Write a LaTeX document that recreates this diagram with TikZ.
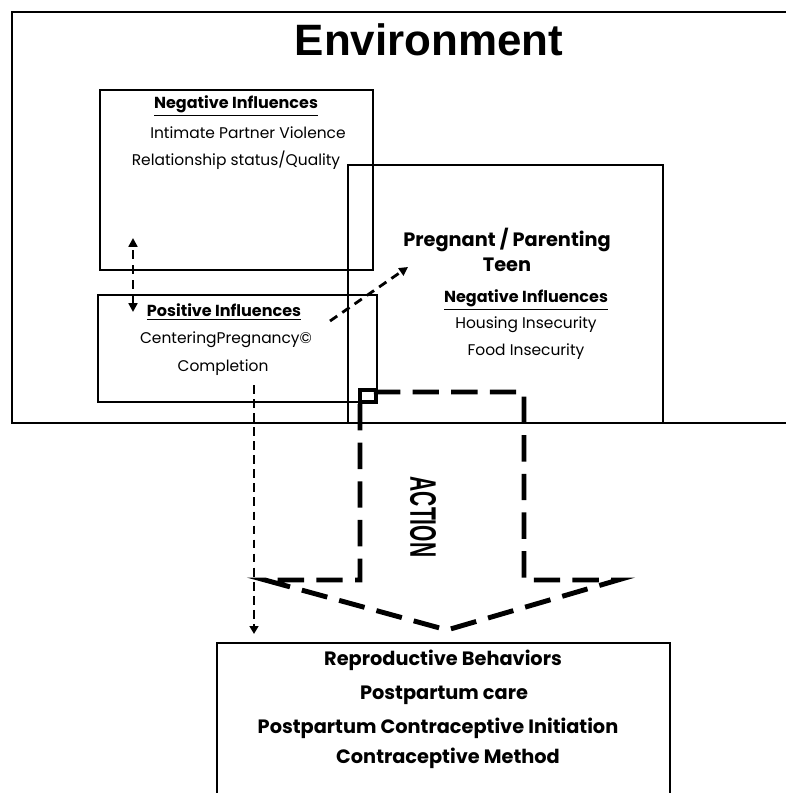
\documentclass[tikz,border=0pt]{standalone}
\usepackage{fontspec}
\setmainfont{Poppins}
\newfontfamily\headfont{Liberation Sans}
\usetikzlibrary{arrows.meta, positioning}

\begin{document}
\begin{tikzpicture}[
        x=0.02cm, y=-0.02cm,
        box/.style={rectangle, draw=black, line width=1.4pt, inner sep=0pt},
        txt/.style={font=\fontsize{8.8}{10}\selectfont, inner sep=0pt},
        hdr/.style={font=\fontsize{9.1}{10}\selectfont\bfseries, inner sep=0pt},
        big/.style={font=\fontsize{11}{13}\selectfont\bfseries, inner sep=0pt},
        arrow/.style={-{Triangle[length=5pt, width=5pt]}, line width=1.6pt, dash pattern=on 5pt off 3.5pt},
        thinarrow/.style={-{Triangle[length=4.5pt, width=5pt]}, line width=1.1pt, dash pattern=on 5pt off 3pt},
        action/.style={line width=2.8pt, dash pattern=on 15pt off 7pt}
    ]
        \useasboundingbox (0,0) rectangle (786,793);
        \clip (0,0) rectangle (786,793);

        % Environment
        \draw[line width=1.4pt] (795,12) -- (12,12) -- (12,423) -- (795,423);
        \node[font=\headfont\fontsize{25}{25}\selectfont\bfseries, inner sep=0pt] (env) at (429,40) {Environment};

        % Negative influences
        \node[box, minimum width=5.46cm, minimum height=3.6cm] (neg) at (236.5,180) {};
        \node[hdr] (negh) at (236,106) {\underline{Negative Influences}};
        \node[txt] (ipv) at (248,133) {Intimate Partner Violence};
        \node[txt] (rel) at (236,160) {Relationship status/Quality};

        % Positive influences
        \node[box, minimum width=5.58cm, minimum height=2.14cm] (pos) at (237.5,348.5) {};
        \node[hdr] (posh) at (224,312) {\underline{Positive Influences}};
        \node[txt] (cp) at (226,340) {CenteringPregnancy\textcopyright};
        \node[txt] (comp) at (223,368) {Completion};

        % Teen
        \node[box, minimum width=6.3cm, minimum height=5.16cm] (teen) at (505.5,294) {};
        \node[big, align=center] (teenh) at (507,250) {Pregnant / Parenting\\[1pt]Teen};
        \node[hdr] (teenn) at (526,300) {\underline{Negative Influences}};
        \node[txt] (hous) at (526,325) {Housing Insecurity};
        \node[txt] (food) at (526,352) {Food Insecurity};

        % Reproductive behaviors
        \draw[line width=1.4pt] (217,800) -- (217,643) -- (670,643) -- (670,800);
        \node[big] (rep) at (443,660) {Reproductive Behaviors};
        \node[big] (ppc) at (444,695) {Postpartum care};
        \node[big] (pci) at (438,728) {Postpartum Contraceptive Initiation};
        \node[big] (cm) at (448,758) {Contraceptive Method};

        % Connectors
        \coordinate (a) at (133,312);
        \coordinate (b) at (133,238);
        \draw[arrow, {Triangle[length=5pt, width=5pt]}-{Triangle[length=5pt, width=5pt]}] (a) -- (b);
        \coordinate (c) at (330,321);
        \coordinate (d) at (408,267);
        \draw[arrow] (c) -- (d);
        \coordinate (e) at (254,385);
        \coordinate (f) at (254,634);
        \draw[thinarrow] (e) -- (f);

        % Action arrow
        \draw[action] (360,404) -- (360,580) -- (265,580) -- (447,630) -- (618,580)
            -- (524,580) -- (524,392) -- (360,392);
        \draw[line width=2.2pt] (360,390) rectangle (376,402);
        \node[font=\headfont\fontsize{21}{21}\selectfont\bfseries, rotate=-90, inner sep=0pt] (act) at (423,517) {\scalebox{0.57}[1]{ACTION}};

    \end{tikzpicture}
\end{document}
